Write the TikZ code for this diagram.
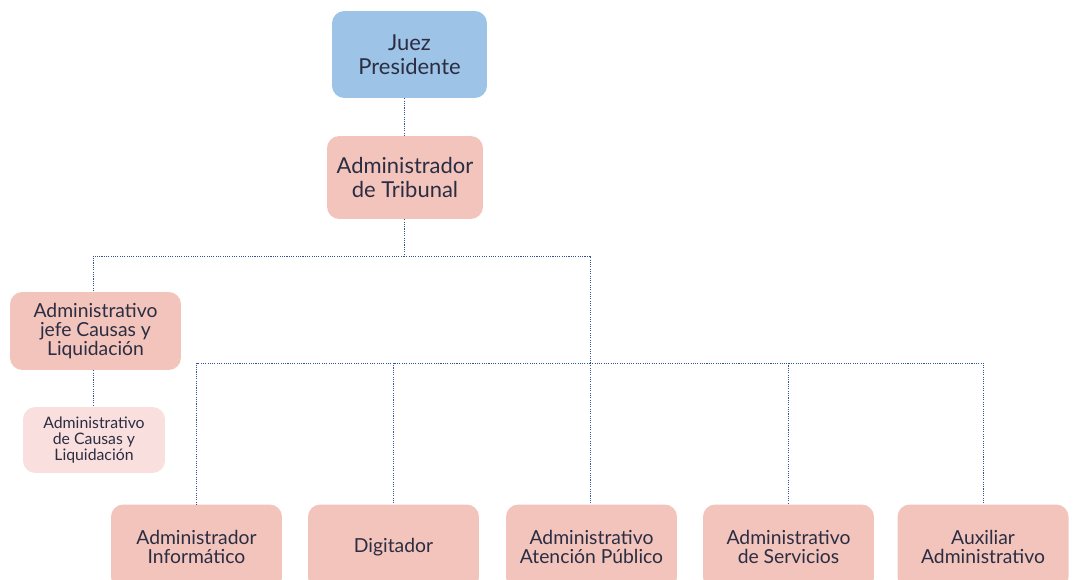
\documentclass[tikz,border=0pt]{standalone}
\usepackage{fontspec}
\setmainfont{Lato}
\usetikzlibrary{calc}

\definecolor{juezblue}{HTML}{9DC3E6}
\definecolor{adminpink}{HTML}{F2C4BC}
\definecolor{palepink}{HTML}{F9E0DE}
\definecolor{textnavy}{HTML}{2B2D42}
\definecolor{linkblue}{HTML}{2F5496}

\begin{document}
\begin{tikzpicture}[x=0.02cm, y=-0.02cm,
  box/.style={rounded corners=7pt, fill=adminpink, text=textnavy, align=center,
    inner sep=0pt, minimum width=3.42cm},
  bigtext/.style={font=\fontsize{12.5}{13.5}\selectfont},
  midtext/.style={font=\fontsize{11}{11}\selectfont},
  smalltext/.style={font=\fontsize{9}{9.2}\selectfont},
  link/.style={linkblue, line width=0.55pt, dash pattern=on 0.6pt off 0.7pt}]
\useasboundingbox (0,0) rectangle (1074,580);
% Top of the chart
\node[box, bigtext, fill=juezblue, minimum width=3.1cm, minimum height=1.74cm] (juez) at (409.5,54.5) {Juez\\Presidente};
\node[box, bigtext, minimum width=3.12cm, minimum height=1.66cm] (admin) at (405,177.5) {Administrador\\de Tribunal};
% Left branch
\node[box, midtext, minimum height=1.56cm] (jefe) at (95.5,331) {Administrativo\\jefe Causas y\\Liquidaci\'on};
\node[box, smalltext, fill=palepink, minimum width=2.84cm, minimum height=1.32cm] (causas) at (94,440) {Administrativo\\de Causas y\\Liquidaci\'on};
% Bottom row (cut by the page edge)
\node[box, midtext, minimum height=1.7cm] (info) at (196.5,547) {Administrador\\Inform\'atico};
\node[box, midtext, minimum height=1.7cm] (digit) at (393.5,547) {Digitador};
\node[box, midtext, minimum height=1.7cm] (atencion) at (591.5,547) {Administrativo\\Atenci\'on P\'ublico};
\node[box, midtext, minimum height=1.7cm] (servicios) at (788.5,547) {Administrativo\\de Servicios};
\node[box, midtext, minimum height=1.7cm] (auxiliar) at (983,547) {Auxiliar\\Administrativo};
% Connectors
\coordinate (split) at (404,256);
\coordinate (bus) at (590,363);
\draw[link] (juez.south -| 404,0) -- (admin.north -| 404,0);
\draw[link] (admin.south -| 404,0) -- (split);
\draw[link] (split) -| (jefe.north -| 93,0);
\draw[link] (split) -| (bus);
\draw[link] (jefe.south -| 93,0) -- (causas.north -| 93,0);
\draw[link] (bus) -| (info.north);
\draw[link] (bus) -| (digit.north);
\draw[link] (bus) -- (atencion.north -| bus);
\draw[link] (bus) -| (servicios.north);
\draw[link] (bus) -| (auxiliar.north);
\end{tikzpicture}
\end{document}
